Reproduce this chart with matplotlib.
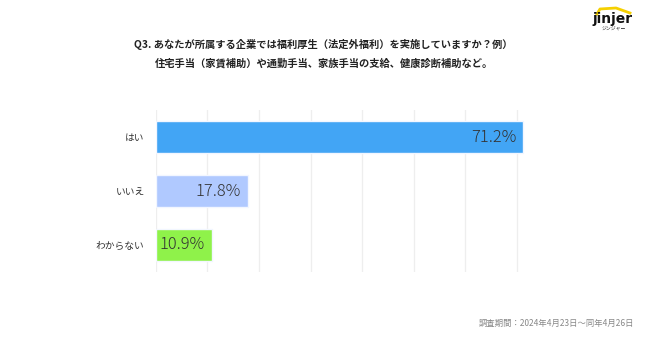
import matplotlib
matplotlib.use("Agg")
import matplotlib.pyplot as plt

plt.rcParams['font.family'] = ['Noto Sans CJK JP', 'DejaVu Sans']

categories = ["はい", "いいえ", "わからない"]
values = [71.2, 17.8, 10.9]
colors = ["#42A5F5", "#B0C9FF", "#8FF24A"]
title_lines = ["Q3. あなたが所属する企業では福利厚生（法定外福利）を実施していますか？例）",
               "住宅手当（家賃補助）や通勤手当、家族手当の支給、健康診断補助など。"]
note = "調査期間：2024年4月23日～同年4月26日"
grid_ticks = [0, 10, 20, 30, 40, 50, 60, 70]

fig = plt.figure(figsize=(6.5, 3.42), dpi=100)
ax = fig.add_axes([0.2395, 0.205, 0.5955, 0.473])

for t in grid_ticks:
    ax.axvline(t, color="#EEEEEE", lw=0.9, zorder=0)

bars = ax.barh(range(len(categories)), values, height=0.6, color=colors,
               edgecolor="#F2F6FF", linewidth=1, zorder=2)
for i, v in enumerate(values):
    ax.annotate(f"{v}%", xy=(v, i), xytext=(-5, 0), textcoords="offset points",
                ha="right", va="center", fontsize=11.8, color="#333333",
                fontweight="light", zorder=3)

ax.set_xlim(0, 75)
ax.set_ylim(2.5, -0.5)
ax.set_yticks(range(len(categories)))
ax.set_yticklabels(categories, fontsize=7, color="#333333")
ax.tick_params(axis="y", length=0, pad=8)
ax.set_xticks([])
for s in ax.spines.values():
    s.set_visible(False)

fig.text(0.498, 1 - 44 / 342, title_lines[0], ha="center", va="center",
         fontsize=7.4, fontweight="bold", color="#222222")
fig.text(0.498, 1 - 63 / 342, title_lines[1], ha="center", va="center",
         fontsize=7.4, fontweight="bold", color="#222222")
fig.text(634 / 650, 1 - 323 / 342, note, ha="right", va="center",
         fontsize=6, color="#888888")

# logo
fig.lines.append(plt.Line2D([597 / 650, 600 / 650, 616 / 650, 630 / 650],
                            [1 - 14 / 342, 1 - 9 / 342, 1 - 8 / 342, 1 - 13 / 342],
                            transform=fig.transFigure, color="#F5D000", lw=2))
fig.text(613 / 650, 1 - 19 / 342, "jinjer", ha="center", va="center",
         fontsize=10, fontweight="bold", color="#111111", family="DejaVu Sans")
fig.text(614 / 650, 1 - 29 / 342, "ジンジャー", ha="center", va="center",
         fontsize=3.5, color="#111111")

fig.savefig("out.png", dpi=100, facecolor="white")
